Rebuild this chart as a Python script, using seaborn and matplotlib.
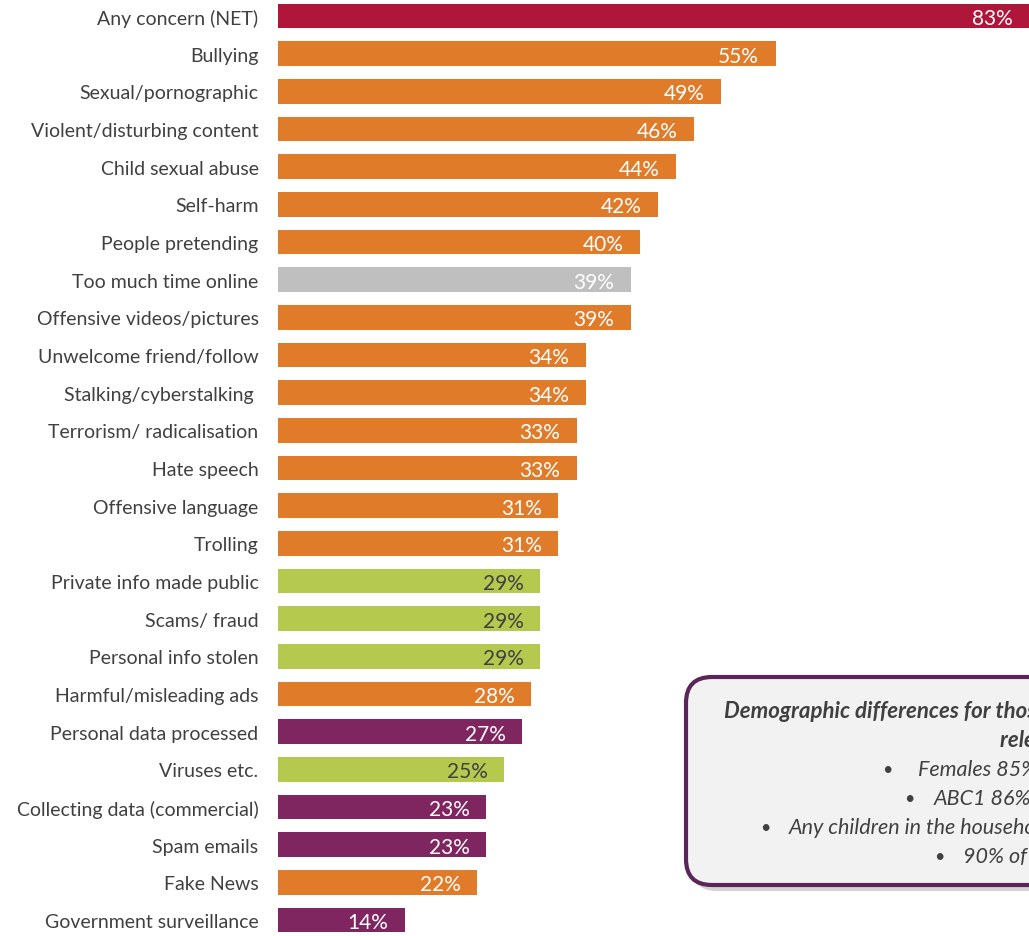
import pandas as pd
import matplotlib.pyplot as plt
import seaborn as sns
from matplotlib.patches import FancyBboxPatch

# Dados do gráfico
categorias = ['Any concern (NET)', 'Bullying', 'Sexual/pornographic', 'Violent/disturbing content',
              'Child sexual abuse', 'Self-harm', 'People pretending', 'Too much time online',
              'Offensive videos/pictures', 'Unwelcome friend/follow', 'Stalking/cyberstalking ',
              'Terrorism/ radicalisation', 'Hate speech', 'Offensive language', 'Trolling',
              'Private info made public', 'Scams/ fraud', 'Personal info stolen',
              'Harmful/misleading ads', 'Personal data processed', 'Viruses etc.',
              'Collecting data (commercial)', 'Spam emails', 'Fake News', 'Government surveillance']
valores = [83, 55, 49, 46, 44, 42, 40, 39, 39, 34, 34, 33, 33, 31, 31, 29, 29, 29, 28, 27, 25, 23, 23, 22, 14]
grupos = ['net', 'conteudo', 'conteudo', 'conteudo', 'conteudo', 'conteudo', 'conteudo', 'tempo',
          'conteudo', 'conteudo', 'conteudo', 'conteudo', 'conteudo', 'conteudo', 'conteudo',
          'seguranca', 'seguranca', 'seguranca', 'conteudo', 'dados', 'seguranca',
          'dados', 'dados', 'conteudo', 'dados']
cores = {'net': '#B0163A', 'conteudo': '#E07B2A', 'tempo': '#BFBFBF',
         'seguranca': '#B5C94F', 'dados': '#7F2660'}

df = pd.DataFrame({'categoria': categorias, 'valor': valores, 'grupo': grupos})

sns.set_style('white')
plt.rcParams['font.family'] = ['Lato', 'DejaVu Sans']

W, H = 1029, 937
fig = plt.figure(figsize=(W / 100, H / 100), dpi=100)
ax = fig.add_axes([278 / W, 0, 1 - 278 / W, 1])

sns.barplot(data=df, x='valor', y='categoria', hue='grupo', palette=cores, saturation=1,
            dodge=False, legend=False, width=0.66, ax=ax, edgecolor='none')

ax.set_xlim(0, 83)
ax.set_ylim(24 + 16 / 37.67, -17 / 37.67)
ax.set_xlabel('')
ax.set_ylabel('')
ax.set_xticks([])
ax.tick_params(axis='y', length=0, pad=14, labelsize=14, labelcolor='#404040')
sns.despine(ax=ax, left=True, bottom=True)

# Rótulos de valor dentro das barras
for i, (v, g) in enumerate(zip(valores, grupos)):
    cor_texto = '#404040' if g == 'seguranca' else 'white'
    ax.annotate(f'{v}%', xy=(v, i), xytext=(-12, 0), textcoords='offset points',
                ha='right', va='center_baseline', fontsize=15, color=cor_texto)

# Caixa de observações (camada sobreposta em pixels)
sobre = fig.add_axes([0, 0, 1, 1], zorder=5)
sobre.set_xlim(0, W)
sobre.set_ylim(H, 0)
sobre.axis('off')

sombra = FancyBboxPatch((691, 684), 500, 208, boxstyle='round,pad=0,rounding_size=26',
                        facecolor='#C8C8C8', edgecolor='none', alpha=0.8)
caixa = FancyBboxPatch((686, 678), 500, 208, boxstyle='round,pad=0,rounding_size=26',
                       facecolor='#F2F2F2', edgecolor='#5A2659', linewidth=3)
sobre.add_patch(sombra)
sobre.add_patch(caixa)

cinza = '#404040'
sobre.text(724, 712, 'Demographic differences for those with any concern', ha='left', va='center',
           fontsize=16, fontweight='bold', fontstyle='italic', color=cinza)
sobre.text(1000, 741, 'relevant to online harms:', ha='left', va='center',
           fontsize=16, fontweight='bold', fontstyle='italic', color=cinza)

linhas = [(882, 918, 770, 'Females 85%'),
          (904, 934, 799, 'ABC1 86%'),
          (760, 789, 828, 'Any children in the household 86%'),
          (934, 963, 857, '90% of parents')]
for xb, xt, y, txt in linhas:
    sobre.text(xb, y, '•', ha='left', va='center', fontsize=13, color=cinza)
    sobre.text(xt, y, txt, ha='left', va='center', fontsize=15.5, fontstyle='italic', color=cinza)

plt.savefig('out.png', dpi=100)
